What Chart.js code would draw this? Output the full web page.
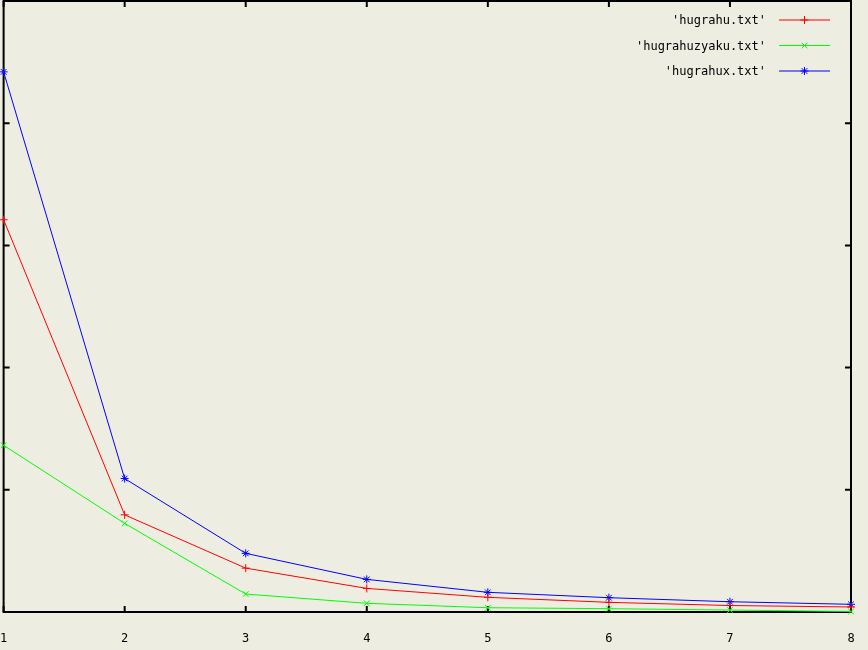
<!DOCTYPE html>
<html>
<head>
<meta charset="utf-8">
<script src="https://cdn.jsdelivr.net/npm/chart.js@4"></script>
<style>
  body { margin: 0; background: #ededE1; }
  canvas { display: block; }
</style>
</head>
<body>
<canvas id="chart" width="868" height="650"></canvas>
<script>
// x positions (1..8) and the three series
const xValues = [1, 2, 3, 4, 5, 6, 7, 8];
const hugrahu = [3.21, 0.795, 0.359, 0.193, 0.120, 0.079, 0.053, 0.041];
const hugrahuzyaku = [1.364, 0.725, 0.147, 0.071, 0.035, 0.027, 0.016, 0.004];
const hugrahux = [4.42, 1.092, 0.480, 0.267, 0.161, 0.117, 0.084, 0.063];
const seriesLabels = ["'hugrahu.txt'", "'hugrahuzyaku.txt'", "'hugrahux.txt'"];
const seriesColors = ['#ff0000', '#00ff00', '#0000ff'];
const seriesMarks = ['cross', 'crossRot', 'star'];
const yTicks = [0, 1, 2, 3, 4, 5];

const monoFont = "'DejaVu Sans Mono', monospace";

function toPoints(values) {
    return xValues.map((x, i) => ({ x: x, y: values[i] }));
}

// Draw the box frame with inward tick marks (gnuplot style)
const framePlugin = {
    id: 'frame',
    beforeDatasetsDraw(chart) {
        const ctx = chart.ctx;
        const area = chart.chartArea;
        const xs = chart.scales.x;
        const ys = chart.scales.y;
        ctx.save();
        ctx.strokeStyle = '#000';
        ctx.lineWidth = 2;
        ctx.strokeRect(area.left, area.top, area.right - area.left, area.bottom - area.top);
        ctx.beginPath();
        xValues.forEach(v => {
            const px = xs.getPixelForValue(v);
            ctx.moveTo(px, area.bottom);
            ctx.lineTo(px, area.bottom - 6);
            ctx.moveTo(px, area.top);
            ctx.lineTo(px, area.top + 6);
        });
        yTicks.forEach(v => {
            const py = ys.getPixelForValue(v);
            ctx.moveTo(area.left, py);
            ctx.lineTo(area.left + 6, py);
            ctx.moveTo(area.right, py);
            ctx.lineTo(area.right - 6, py);
        });
        ctx.stroke();
        ctx.restore();
    }
};

// Legend: text right aligned, line sample with marker to its right
const keyPlugin = {
    id: 'key',
    afterDraw(chart) {
        const ctx = chart.ctx;
        ctx.save();
        ctx.font = '12px ' + monoFont;
        ctx.textAlign = 'right';
        ctx.textBaseline = 'middle';
        chart.data.datasets.forEach((ds, i) => {
            const y = 20 + i * 25.5;
            ctx.fillStyle = '#000';
            ctx.fillText(ds.label, 766, y + 1);
            ctx.strokeStyle = ds.borderColor;
            ctx.lineWidth = 1;
            ctx.beginPath();
            ctx.moveTo(779, y);
            ctx.lineTo(830, y);
            ctx.stroke();
            Chart.helpers.drawPoint(ctx, {
                pointStyle: ds.pointStyle,
                radius: 4,
                borderWidth: 1
            }, 804.5, y);
        });
        ctx.restore();
    }
};

const datasets = [hugrahu, hugrahuzyaku, hugrahux].map((values, i) => ({
    label: seriesLabels[i],
    data: toPoints(values),
    borderColor: seriesColors[i],
    backgroundColor: seriesColors[i],
    borderWidth: 1,
    pointStyle: seriesMarks[i],
    pointRadius: 4,
    pointBorderWidth: 1,
    tension: 0
}));

new Chart(document.getElementById('chart'), {
    type: 'line',
    data: { datasets: datasets },
    options: {
        responsive: false,
        animation: false,
        clip: false,
        layout: { autoPadding: false, padding: { left: 3, right: 17, top: 1, bottom: 0 } },
        plugins: {
            legend: { display: false },
            tooltip: { enabled: false }
        },
        scales: {
            x: {
                type: 'linear',
                min: 1,
                max: 8,
                grid: { display: false, drawTicks: true, tickLength: 20 },
                border: { display: false },
                ticks: {
                    stepSize: 1,
                    padding: 0,
                    color: '#000',
                    font: { family: monoFont, size: 12 }
                },
                afterFit(scale) { scale.height = 38; }
            },
            y: {
                display: false,
                min: 0,
                max: 5,
                ticks: { stepSize: 1 }
            }
        }
    },
    plugins: [framePlugin, keyPlugin]
});
</script>
</body>
</html>
